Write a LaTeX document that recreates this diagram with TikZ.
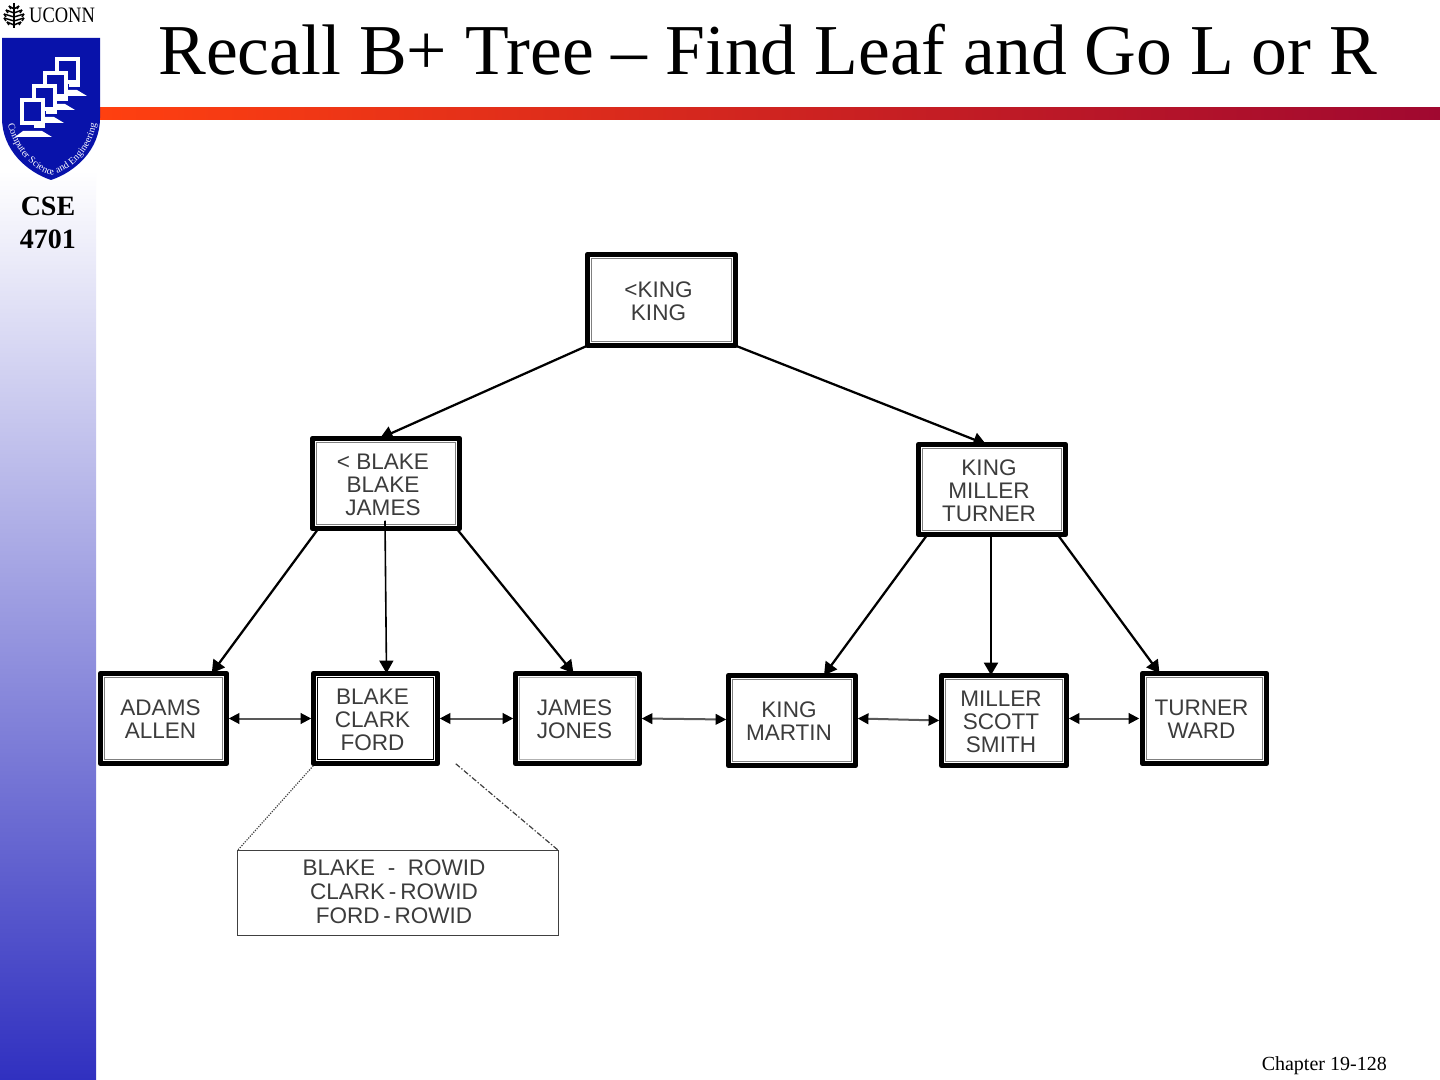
\documentclass[tikz,border=0pt]{standalone}
\usepackage{fontspec}
\setmainfont{Liberation Serif}
\newfontfamily\boxfont{Liberation Sans}
\usetikzlibrary{arrows.meta,calc,decorations.text}
\definecolor{shieldblue}{RGB}{8,18,170}
\definecolor{sidelow}{RGB}{48,48,192}
\definecolor{barleft}{RGB}{255,64,16}
\definecolor{barright}{RGB}{160,8,48}
\definecolor{boxtext}{RGB}{60,60,60}
\tikzset{
  treebox/.style={draw=black,line width=3.4pt,line join=round,fill=white,rectangle,outer sep=0pt,inner sep=0pt,text=boxtext,font=\boxfont\fontsize{16.9}{17.25}\selectfont},
  innerline/.style={draw=black!50,line width=1.2pt},
  link/.style={draw=black,line width=1.7pt,-{Triangle[length=9.5pt,width=10.5pt]}},
  sibling/.style={draw=black!65,line width=1.5pt,{Triangle[length=8pt,width=8pt,black]}-{Triangle[length=8pt,width=8pt,black]}},
  zoomline/.style={draw=black!75,line width=0.9pt,densely dotted},
  zoomdash/.style={draw=black!75,line width=0.9pt,dash pattern=on 4pt off 1.5pt on 1pt off 1.5pt},
  detailbox/.style={draw=black!75,line width=1.1pt,rectangle,outer sep=0pt,inner sep=0pt,text=boxtext,font=\boxfont\fontsize{16.9}{18}\selectfont},
  monitor/.style={fill=white,draw=none},
  monscreen/.style={fill=shieldblue,draw=none}
}
\newsavebox{\linesbox}
\newcommand{\lines}[3][3pt]{\sbox{\linesbox}{\begin{tabular}{@{}c@{}}#3\end{tabular}}\kern-#2pt\raisebox{-#1}[\ht\linesbox][\dp\linesbox]{\usebox{\linesbox}}}
% [inner style], name, x0, y0, x1, y1, text
\newcommand{\bx}[7][innerline]{%
  \pgfmathsetmacro{\cxx}{(#3+#5)/2}\pgfmathsetmacro{\cyy}{(#4+#6)/2}%
  \pgfmathsetmacro{\wdd}{(#5-#3-4.5)*0.75}\pgfmathsetmacro{\htt}{(#6-#4-4.5)*0.75}%
  \node[treebox,minimum width=\wdd pt,minimum height=\htt pt] (#2) at (\cxx,\cyy) {\lines{4.5}{#7}};
  \draw[#1] ($(#2.south west)+(4.2,-4.2)$) rectangle ($(#2.north east)+(-4.2,4.2)$);
}
\newcommand{\mon}[2]{%
  \begin{scope}[shift={(#1,#2)}]
    \fill[monitor] (0,0) rectangle (25,27);
    \fill[monscreen] (4,4) rectangle (21,23);
    \fill[monitor] (3,33) -- (22,33) -- (32,39) -- (-5,39) -- cycle;
    \fill[monitor] (14,27) rectangle (25,30);
  \end{scope}}
\begin{document}
\begin{tikzpicture}[x=0.75pt,y=-0.75pt]
\useasboundingbox (0,0) rectangle (1440,1080);
\fill[white] (0,0) rectangle (1440,1080);
% side bar and rule
\shade[top color=white,bottom color=sidelow] (0,170) rectangle (96,1080);
\shade[left color=barleft,right color=barright] (100,108) rectangle (1440,120);
% logo
\node[anchor=west,inner sep=0pt,xscale=0.84,font=\fontsize{16.5}{16.5}\selectfont] (uconn) at (29,15.5) {UCONN};
\begin{scope}[line width=1.1pt,black]
  \draw (14,3) -- (14,28);
  \foreach \yy/\hw in {6/5,10/8,14/10,18/10,22/7}{
    \draw (14,\yy+3) -- (14-\hw,\yy);
    \draw (14,\yy+3) -- (14+\hw,\yy);
    \draw (14-\hw,\yy) -- (14-\hw+2,\yy+3);
    \draw (14+\hw,\yy) -- (14+\hw-2,\yy+3);
  }
\end{scope}
\fill[shieldblue] (2,38) -- (100,38) -- (100,118) .. controls (100,150) and (75,172) .. (51,180) .. controls (27,172) and (2,150) .. (2,118) -- cycle;
\mon{55}{57}
\mon{43}{71}
\mon{32}{84}
\mon{20}{98}
\path[decorate,decoration={text along path,text align=fit to path,
  text={|\fontsize{7.4}{7.4}\selectfont\color{white}|Computer Science and Engineering}}]
  (8,124) .. controls (14,150) and (32,170) .. (52,175) .. controls (72,170) and (92,150) .. (96,124);
\node[font=\bfseries\fontsize{21}{25}\selectfont,align=center,inner sep=0pt] (course) at (48,223) {CSE\\4701};
% title and footer
\node[anchor=base west,inner sep=0pt,font=\fontsize{53.7}{53.7}\selectfont] (title) at (158,75) {Recall B+ Tree -- Find Leaf and Go L or R};
\node[anchor=base east,inner sep=0pt,font=\fontsize{15}{15}\selectfont] (footer) at (1387,1070) {Chapter 19-128};
% tree
\bx{root}{585}{252}{738}{348}{<KING\\KING}
\bx{lft}{310}{436}{462}{531}{< BLAKE\\BLAKE\\JAMES}
\bx{rgt}{916}{442}{1068}{537}{KING\\MILLER\\TURNER}
\bx{adams}{98}{671}{229}{766}{ADAMS\\ALLEN}
\bx[draw=black,line width=1.2pt]{blake}{311}{671}{440}{766}{BLAKE\\CLARK\\FORD}
\bx[draw=black!30,line width=0.5pt]{james}{513}{671}{642}{766}{JAMES\\JONES}
\bx{king}{726}{673}{858}{768}{KING\\MARTIN}
\bx{miller}{939}{673}{1069}{768}{MILLER\\SCOTT\\SMITH}
\bx{turner}{1140}{671}{1269}{766}{TURNER\\WARD}
\draw[link] (root.south west) -- ($(lft.north)+(-6,0)$);
\draw[link] (root.south east) -- ($(rgt.north)+(-6,0)$);
\draw[link] ($(lft.south west)+(6,0)$) -- ($(adams.north east)+(-15,0)$);
\draw[link,line width=1.2pt] ($(lft.south)+(-1,-8)$) -- ($(blake.north)+(11,0)$);
\draw[link] ($(lft.south east)+(-3,0)$) -- ($(james.north)+(-4,0)$);
\draw[link] ($(rgt.south west)+(9,0)$) -- ($(king.north)+(32,0)$);
\draw[link] ($(rgt.south)+(-1,0)$) -- ($(miller.north)+(-13,0)$);
\draw[link] ($(rgt.south east)+(-8,0)$) -- ($(turner.north)+(-45,0)$);
\draw[sibling] ($(adams.east)+(2,0)$) -- ($(blake.west)+(-2,0)$);
\draw[sibling] ($(blake.east)+(2,0)$) -- ($(james.west)+(-2,0)$);
\draw[sibling] ($(james.east)+(2,0)$) -- ($(king.west)+(-2,-1)$);
\draw[sibling] ($(king.east)+(2,-2)$) -- ($(miller.west)+(-2,0)$);
\draw[sibling] ($(miller.east)+(2,-2)$) -- ($(turner.west)+(-3,0)$);
% detail of a leaf
\node[detailbox,minimum width=240.75pt,minimum height=63.75pt] (rowid) at (398,893) {\lines[1.6pt]{6}{BLAKE\ \ -\ \ ROWID\\CLARK\,-\,ROWID\\FORD\,-\,ROWID}};
\draw[zoomline] ($(blake.south west)+(0,2)$) -- (rowid.north west);
\draw[zoomdash] ($(blake.south east)+(18,0)$) -- (rowid.north east);
\end{tikzpicture}
\end{document}
